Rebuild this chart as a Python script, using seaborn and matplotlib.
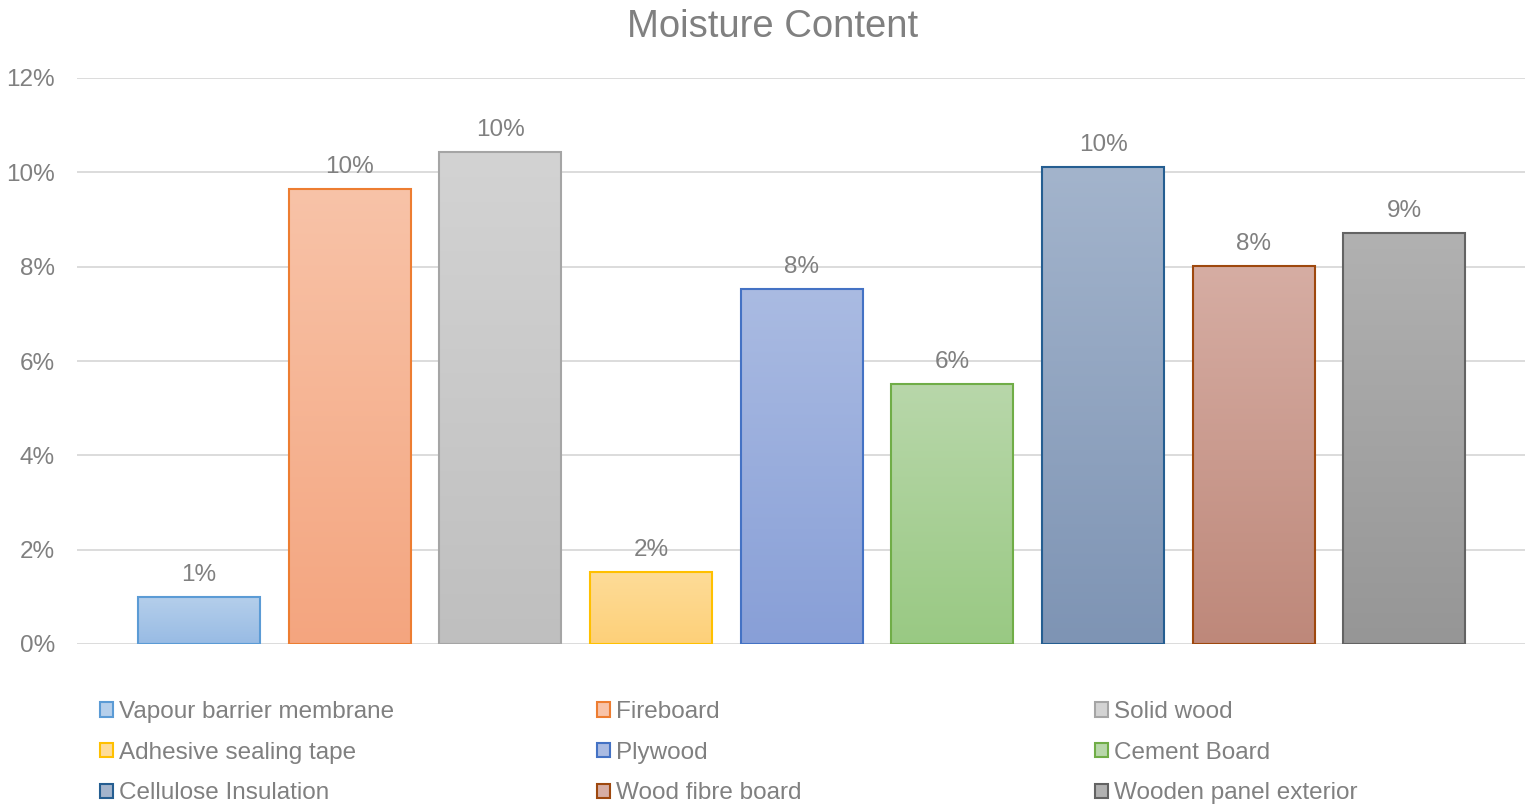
import numpy as np
import pandas as pd
import matplotlib
matplotlib.use("Agg")
import matplotlib.pyplot as plt
from matplotlib.colors import to_rgb, LinearSegmentedColormap
from matplotlib.patches import Patch
import seaborn as sns

# Materials and their moisture content (%)
materials = [
    "Vapour barrier membrane", "Fireboard", "Solid wood",
    "Adhesive sealing tape", "Plywood", "Cement Board",
    "Cellulose Insulation", "Wood fibre board", "Wooden panel exterior",
]
moisture = [1.0, 9.65, 10.43, 1.53, 7.53, 5.51, 10.11, 8.01, 8.71]
y_ticks = [0, 2, 4, 6, 8, 10, 12]

# Bar styling: outline colour plus light-top / darker-bottom gradient fill
edge_colors = ["#5B9BD5", "#ED7D31", "#A5A5A5", "#FFC000", "#4472C4",
               "#70AD47", "#255E91", "#9E480E", "#636363"]
fill_top = ["#b5cfeb", "#f8c3a8", "#d3d3d3", "#fedc98", "#aabbe2",
            "#b8d7aa", "#a3b4cc", "#d6ada3", "#b1b1b1"]
fill_bottom = ["#98bbe4", "#f4a57f", "#bfbfbf", "#fdd079", "#889fd7",
               "#99c983", "#7e94b4", "#be887a", "#969696"]

TEXT = "#808080"
GRID = "#d9d9d9"
FS = 17.5

sns.set_theme(style="white")
plt.rcParams["font.family"] = ["Liberation Sans", "DejaVu Sans"]

W, H = 1525, 806
fig = plt.figure(figsize=(W / 100, H / 100), dpi=100)
ax = fig.add_axes([77 / W, 1 - 644 / H, (W - 77) / W, (644 - 78) / H])

df = pd.DataFrame({"material": materials, "moisture": moisture})
sns.barplot(data=df, x="material", y="moisture", hue="material",
            order=materials, hue_order=materials,
            palette=fill_bottom, width=0.81, legend=False, ax=ax)

# Gradient fill clipped to each bar, plus coloured outline
for patch, top, bot, ec in zip(ax.patches, fill_top, fill_bottom, edge_colors):
    x0, y0 = patch.get_x(), patch.get_y()
    w, h = patch.get_width(), patch.get_height()
    cmap = LinearSegmentedColormap.from_list("g", [to_rgb(bot), to_rgb(top)])
    grad = np.linspace(0, 1, 256).reshape(-1, 1)
    im = ax.imshow(grad, cmap=cmap, origin="lower", aspect="auto",
                   extent=(x0, x0 + w, y0, y0 + h), zorder=2)
    im.set_clip_path(patch)
    patch.set_facecolor("none")
    patch.set_edgecolor(ec)
    patch.set_linewidth(1.5)
    patch.set_zorder(3)

ax.set_xlim(-0.81, 8.80)
ax.set_ylim(0, 12)

# Value labels above bars
for i, v in enumerate(moisture):
    ax.annotate(f"{v:.0f}%", (i, v), xytext=(0, 11.5), textcoords="offset points",
                ha="center", va="baseline", fontsize=FS, color=TEXT)

ax.set_yticks(y_ticks)
ax.set_yticklabels([f"{t}%" for t in y_ticks])
ax.tick_params(axis="y", length=0, pad=16, labelsize=FS, labelcolor=TEXT)
ax.set_xticks([])
ax.set_xlabel("")
ax.set_ylabel("")
ax.grid(axis="y", color=GRID, linewidth=1.3, zorder=0)
ax.set_axisbelow(True)
for s in ax.spines.values():
    s.set_visible(False)

fig.text(773 / W, 1 - 27 / H, "Moisture Content", ha="center", va="center",
         fontsize=27.5, color=TEXT)

# Legend in three columns, filled column by column
col_x = [100, 597, 1095]
for c in range(3):
    idx = [c, c + 3, c + 6]
    handles = [Patch(facecolor=fill_top[i], edgecolor=edge_colors[i], linewidth=1.5)
               for i in idx]
    labels = [materials[i] for i in idx]
    fig.legend(handles, labels, loc="upper left",
               bbox_to_anchor=(col_x[c] / W, 1 - 701 / H),
               frameon=False, fontsize=FS, labelcolor=TEXT,
               handlelength=0.55, handleheight=0.55, handletextpad=0.25,
               labelspacing=0.77, borderpad=0, borderaxespad=0)

fig.savefig("out.png", dpi=100, facecolor="white")
